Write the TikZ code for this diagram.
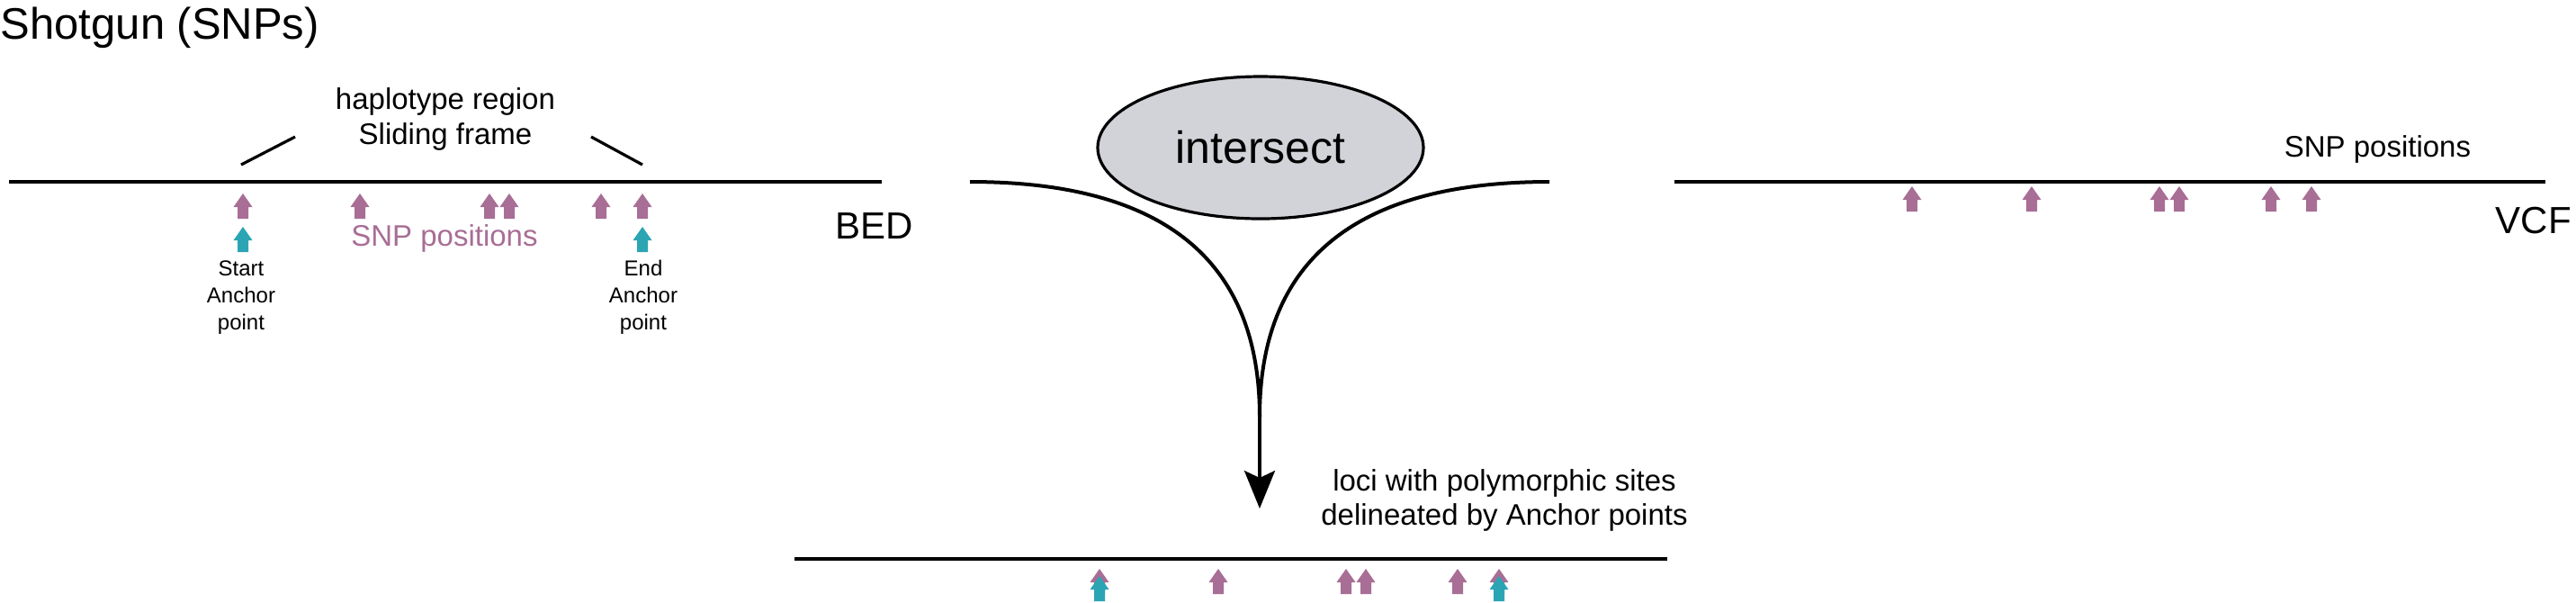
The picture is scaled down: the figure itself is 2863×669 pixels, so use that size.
\documentclass[tikz,border=0pt]{standalone}
\usepackage{fontspec}
\setmainfont{Liberation Sans}
\usepackage{tikz}
\usetikzlibrary{calc,shapes,positioning}
\usetikzlibrary{arrows.meta}
\tikzset{>={Stealth[length=10.5pt,width=8.5pt,inset=2pt]}}

\definecolor{snppurple}{RGB}{168,110,149}
\definecolor{anchorteal}{RGB}{43,165,180}
\definecolor{isectgray}{RGB}{209,211,216}

% block arrow marking one site, tip at (#2,#3)
\newcommand{\snparrow}[3]{\fill[#1, shift={(#2,#3)}] (0,0) -- (10.5,15) -- (6,15) -- (6,28) -- (-6,28) -- (-6,15) -- (-10.5,15) -- cycle;}

\begin{document}
\begin{tikzpicture}[x=0.25pt, y=-0.25pt]
    \tikzstyle{track} = [line width=1.1pt]
    \tikzstyle{flow} = [line width=1pt]
    \tikzstyle{tnode} = [inner sep=0pt, align=center, font=\fontsize{8.25pt}{9.75pt}\selectfont]
    \tikzstyle{snode} = [inner sep=0pt, align=center, font=\fontsize{6pt}{7.4pt}\selectfont]
    \tikzstyle{fnode} = [inner sep=0pt, anchor=base west, font=\fontsize{10.5pt}{12pt}\selectfont]

    \useasboundingbox (0,0) rectangle (2863,669);

    \node[inner sep=0pt, anchor=base west, font=\fontsize{12.25pt}{14pt}\selectfont] (title) at (0,43) {Shotgun (SNPs)};

    % BED track
    \coordinate (bedL) at (10,202);
    \coordinate (bedR) at (980,202);
    \draw[track] (bedL) -- (bedR);
    \node[fnode] (bed) at (928,265) {BED};

    % base of a multi-line node = its last line
    \node[tnode, anchor=base] (hap) at (495,160) {haplotype region\\Sliding frame};
    \coordinate (hapL1) at (268,183);
    \coordinate (hapL2) at (328,152);
    \coordinate (hapR1) at (657,152);
    \coordinate (hapR2) at (714,183);
    \draw[flow, line width=0.8pt] (hapL1) -- (hapL2);
    \draw[flow, line width=0.8pt] (hapR1) -- (hapR2);

    \snparrow{snppurple}{270}{215}
    \snparrow{snppurple}{400}{215}
    \snparrow{snppurple}{544}{215}
    \snparrow{snppurple}{566}{215}
    \snparrow{snppurple}{668}{215}
    \snparrow{snppurple}{714}{215}
    \snparrow{anchorteal}{270}{252}
    \snparrow{anchorteal}{714}{252}

    \node[tnode, anchor=base, text=snppurple] (snpbed) at (494,273) {SNP positions};
    \node[snode, anchor=base] (start) at (268,366) {Start\\Anchor\\point};
    \node[snode, anchor=base] (end) at (715,366) {End\\Anchor\\point};

    % VCF track
    \coordinate (vcfL) at (1861,202);
    \coordinate (vcfR) at (2829,202);
    \draw[track] (vcfL) -- (vcfR);
    \node[fnode] (vcf) at (2773,259) {VCF};
    \node[tnode, anchor=base west] (snpvcf) at (2538,174) {SNP positions};

    \snparrow{snppurple}{2125}{207}
    \snparrow{snppurple}{2258}{207}
    \snparrow{snppurple}{2400}{207}
    \snparrow{snppurple}{2422}{207}
    \snparrow{snppurple}{2524}{207}
    \snparrow{snppurple}{2569}{207}

    % intersect
    \node[ellipse, draw=black, line width=0.8pt, fill=isectgray, minimum width=90.5pt, minimum height=39.5pt,
          inner sep=0pt, font=\fontsize{12.5pt}{14pt}\selectfont] (isect) at (1401,164) {intersect};

    \coordinate (inL) at (1078,202);
    \coordinate (inR) at (1722,202);
    \coordinate (merge) at (1400,463);
    \coordinate (tip) at (1400,565);
    \draw[flow] (inL) .. controls ($(inL)+(220,0)$) and ($(merge)+(0,-170)$) .. (merge);
    \draw[flow] (inR) .. controls ($(inR)+(-220,0)$) and ($(merge)+(0,-170)$) .. (merge);
    \draw[flow, ->] (merge) -- (tip);

    \node[tnode, anchor=base, font=\fontsize{8.25pt}{9.5pt}\selectfont] (loci) at (1672,583) {loci with polymorphic sites\\delineated by Anchor points};

    % result track
    \coordinate (locL) at (883,621);
    \coordinate (locR) at (1853,621);
    \draw[track] (locL) -- (locR);

    \snparrow{snppurple}{1222}{632}
    \snparrow{snppurple}{1354}{632}
    \snparrow{snppurple}{1496}{632}
    \snparrow{snppurple}{1518}{632}
    \snparrow{snppurple}{1620}{632}
    \snparrow{snppurple}{1666}{632}
    \snparrow{anchorteal}{1222}{640}
    \snparrow{anchorteal}{1666}{640}

  \end{tikzpicture}
\end{document}
